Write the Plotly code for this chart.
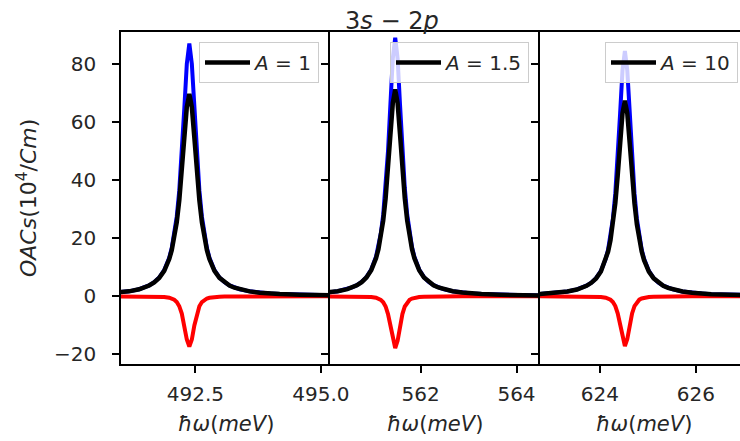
import plotly.graph_objects as go
from plotly.subplots import make_subplots

# ---------------- data ----------------
x_p1 = [490.58, 490.78, 490.98, 491.18, 491.38, 491.48, 491.58, 491.68, 491.78, 491.88,
        491.98, 492.03, 492.08, 492.13, 492.18, 492.23, 492.28, 492.33, 492.38, 492.43,
        492.48, 492.53, 492.58, 492.63, 492.68, 492.73, 492.78, 492.88, 492.98, 493.08,
        493.18, 493.28, 493.38, 493.58, 493.78, 493.98, 494.18, 494.58, 494.98, 495.48]
blue_p1 = [0.77, 0.97, 1.26, 1.71, 2.44, 3.00, 3.76, 4.85, 6.46, 9.01,
           13.31, 16.62, 21.14, 27.49, 36.45, 48.89, 64.64, 80.04, 87.0, 80.04,
           64.64, 48.89, 36.45, 27.49, 21.14, 16.62, 13.31, 9.01, 6.46, 4.85,
           3.76, 3.00, 2.44, 1.71, 1.26, 0.97, 0.77, 0.52, 0.37, 0.26]
red_p1 = [0, 0, 0, 0, -0.02, -0.03, -0.04, -0.06, -0.11, -0.22,
          -0.48, -0.74, -1.18, -1.97, -3.41, -5.95, -10.02, -14.88, -17.3, -14.88,
          -10.02, -5.95, -3.41, -1.97, -1.18, -0.74, -0.48, -0.22, -0.11, -0.06,
          -0.04, -0.03, -0.02, 0, 0, 0, 0, 0, 0, 0]
black_p1 = [0.77, 0.97, 1.26, 1.71, 2.42, 2.97, 3.72, 4.79, 6.35, 8.79,
            12.83, 15.88, 19.96, 25.52, 33.04, 42.94, 54.62, 65.16, 69.7, 65.16,
            54.62, 42.94, 33.04, 25.52, 19.96, 15.88, 12.83, 8.79, 6.35, 4.79,
            3.72, 2.97, 2.42, 1.71, 1.26, 0.97, 0.77, 0.52, 0.37, 0.26]

x_p2 = [559.67, 559.87, 560.07, 560.27, 560.47, 560.57, 560.67, 560.77, 560.87, 560.97,
        561.07, 561.12, 561.17, 561.22, 561.27, 561.32, 561.37, 561.42, 561.47, 561.52,
        561.57, 561.62, 561.67, 561.72, 561.77, 561.82, 561.87, 561.97, 562.07, 562.17,
        562.27, 562.37, 562.47, 562.67, 562.87, 563.07, 563.27, 563.67, 564.07, 564.57]
blue_p2 = [0.79, 0.99, 1.29, 1.75, 2.50, 3.07, 3.84, 4.96, 6.61, 9.22,
           13.62, 17.0, 21.63, 28.12, 37.29, 50.02, 66.13, 81.88, 89.0, 81.88,
           66.13, 50.02, 37.29, 28.12, 21.63, 17.0, 13.62, 9.22, 6.61, 4.96,
           3.84, 3.07, 2.50, 1.75, 1.29, 0.99, 0.79, 0.53, 0.38, 0.27]
red_p2 = [0, 0, 0, 0, -0.02, -0.03, -0.04, -0.07, -0.12, -0.23,
          -0.50, -0.77, -1.21, -2.03, -3.51, -6.12, -10.31, -15.31, -17.8, -15.31,
          -10.31, -6.12, -3.51, -2.03, -1.21, -0.77, -0.50, -0.23, -0.12, -0.07,
          -0.04, -0.03, -0.02, 0, 0, 0, 0, 0, 0, 0]
black_p2 = [0.79, 0.99, 1.29, 1.75, 2.48, 3.04, 3.80, 4.89, 6.49, 8.99,
            13.12, 16.23, 20.42, 26.09, 33.78, 43.90, 55.82, 66.57, 71.2, 66.57,
            55.82, 43.90, 33.78, 26.09, 20.42, 16.23, 13.12, 8.99, 6.49, 4.89,
            3.80, 3.04, 2.48, 1.75, 1.29, 0.99, 0.79, 0.53, 0.38, 0.27]

x_p3 = [622.72, 622.92, 623.12, 623.32, 623.52, 623.62, 623.72, 623.82, 623.92, 624.02,
        624.12, 624.17, 624.22, 624.27, 624.32, 624.37, 624.42, 624.47, 624.52, 624.57,
        624.62, 624.67, 624.72, 624.77, 624.82, 624.87, 624.92, 625.02, 625.12, 625.22,
        625.32, 625.42, 625.52, 625.72, 625.92, 626.12, 626.32, 626.72, 627.12, 627.62]
blue_p3 = [0.75, 0.94, 1.23, 1.66, 2.37, 2.92, 3.65, 4.71, 6.28, 8.75,
           12.93, 16.14, 20.53, 26.70, 35.41, 47.49, 62.78, 77.74, 84.5, 77.74,
           62.78, 47.49, 35.41, 26.70, 20.53, 16.14, 12.93, 8.75, 6.28, 4.71,
           3.65, 2.92, 2.37, 1.66, 1.23, 0.94, 0.75, 0.50, 0.36, 0.25]
red_p3 = [0, 0, 0, 0, -0.02, -0.03, -0.04, -0.06, -0.11, -0.22,
          -0.48, -0.74, -1.16, -1.95, -3.37, -5.88, -9.90, -14.71, -17.1, -14.71,
          -9.90, -5.88, -3.37, -1.95, -1.16, -0.74, -0.48, -0.22, -0.11, -0.06,
          -0.04, -0.03, -0.02, 0, 0, 0, 0, 0, 0, 0]
black_p3 = [0.75, 0.94, 1.23, 1.66, 2.35, 2.89, 3.61, 4.65, 6.17, 8.53,
            12.45, 15.40, 19.37, 24.75, 32.04, 41.61, 52.88, 63.03, 67.4, 63.03,
            52.88, 41.61, 32.04, 24.75, 19.37, 15.40, 12.45, 8.53, 6.17, 4.65,
            3.61, 2.89, 2.35, 1.66, 1.23, 0.94, 0.75, 0.50, 0.36, 0.25]

legend_labels = ["<i>A</i> = 1", "<i>A</i> = 1.5", "<i>A</i> = 10"]
x_ranges = [[491.02, 495.18], [560.11, 564.49], [622.75, 626.92]]
x_dticks = [2.5, 2, 2]
x_formats = [".1f", "d", "d"]
y_range = [-23.3, 91.0]

panels = [
    (x_p1, blue_p1, red_p1, black_p1),
    (x_p2, blue_p2, red_p2, black_p2),
    (x_p3, blue_p3, red_p3, black_p3),
]

# ---------------- figure ----------------
W, H = 740, 441
FONT = "DejaVu Sans"
fig = make_subplots(rows=1, cols=3, shared_yaxes=True, horizontal_spacing=0)

legend_names = ["legend", "legend2", "legend3"]
for i, (xs, b, r, k) in enumerate(panels):
    c = i + 1
    fig.add_trace(go.Scatter(x=xs, y=b, mode="lines", line=dict(color="#0000ff", width=4),
                             showlegend=False, hoverinfo="skip"), row=1, col=c)
    fig.add_trace(go.Scatter(x=xs, y=r, mode="lines", line=dict(color="#ff0000", width=4),
                             showlegend=False, hoverinfo="skip"), row=1, col=c)
    fig.add_trace(go.Scatter(x=xs, y=k, mode="lines", line=dict(color="#000000", width=4.5),
                             name=legend_labels[i], legend=legend_names[i],
                             showlegend=True, hoverinfo="skip"), row=1, col=c)

x_domains = [[121 / W, 330 / W], [330 / W, 540 / W], [540 / W, 1.0]]
y_domain = [1 - 364 / H, 1 - 32 / H]

for i in range(3):
    c = i + 1
    fig.update_xaxes(row=1, col=c, domain=x_domains[i], range=x_ranges[i],
                     dtick=x_dticks[i], tick0=0, tickformat=x_formats[i],
                     showline=True, linecolor="black", linewidth=1.6, mirror=True,
                     ticks="outside", ticklen=7, tickwidth=1.6, tickcolor="black",
                     showgrid=False, zeroline=False, automargin=False,
                     ticklabelstandoff=4,
                     tickfont=dict(family=FONT, size=20, color="#262626"))
    fig.update_yaxes(row=1, col=c, domain=y_domain, range=y_range, dtick=20, tick0=0,
                     showline=True, linecolor="black", linewidth=1.6, mirror=False,
                     ticks="outside", ticklen=7, tickwidth=1.6, tickcolor="black",
                     showgrid=False, zeroline=False, showticklabels=(i == 0),
                     automargin=False, ticklabelstandoff=12,
                     tickfont=dict(family=FONT, size=20, color="#262626"))

legend_right = [319 / W, 529 / W, 738 / W]
legend_common = dict(bgcolor="rgba(255,255,255,0.8)", bordercolor="#cccccc", borderwidth=1,
                     font=dict(family=FONT, size=20, color="#262626"),
                     xanchor="right", yanchor="top", y=1 - 42 / H, itemwidth=45)
fig.update_layout(
    legend=dict(x=legend_right[0], **legend_common),
    legend2=dict(x=legend_right[1], **legend_common),
    legend3=dict(x=legend_right[2], **legend_common),
)

annotations = []
x_label_centers = [225.5, 435, 644]
for cx in x_label_centers:
    annotations.append(dict(text="<i>ħω</i>(<i>meV</i>)", x=cx / W, y=1 - 424 / H,
                            xref="paper", yref="paper", xanchor="center", yanchor="middle",
                            showarrow=False, font=dict(family=FONT, size=21, color="#262626")))
annotations.append(dict(text="<i>OACs</i>(10<sup>4</sup>/<i>Cm</i>)", x=27 / W, y=1 - 198 / H,
                        xref="paper", yref="paper", xanchor="center", yanchor="middle",
                        textangle=-90, showarrow=False,
                        font=dict(family=FONT, size=22, color="#262626")))
annotations.append(dict(text="3<i>s</i> − 2<i>p</i>", x=392 / W, y=1 - 21 / H,
                        xref="paper", yref="paper", xanchor="center", yanchor="middle",
                        showarrow=False, font=dict(family=FONT, size=24, color="#262626")))

fig.update_layout(width=W, height=H,
                  margin=dict(l=0, r=0, t=0, b=0, autoexpand=False),
                  paper_bgcolor="white", plot_bgcolor="white",
                  annotations=annotations, font=dict(family=FONT))

fig.write_html("out.html")
